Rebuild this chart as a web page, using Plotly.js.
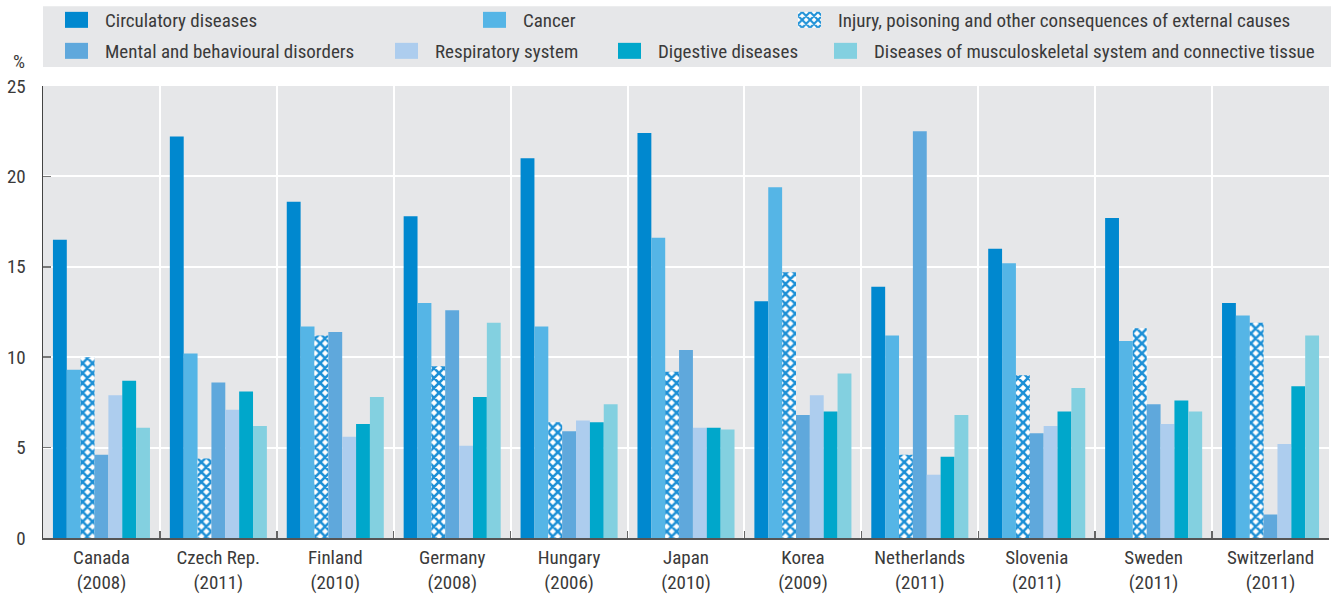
<!DOCTYPE html>
<html>
<head>
<meta charset="utf-8">
<script src="https://cdn.plot.ly/plotly-3.0.1.min.js"></script>
<style>
html,body{margin:0;padding:0;background:#fff;}
#chart{width:1331px;height:594px;}
</style>
</head>
<body>
<div id="chart"></div>
<script>
const categories = ["Canada<br>(2008)", "Czech Rep.<br>(2011)", "Finland<br>(2010)", "Germany<br>(2008)", "Hungary<br>(2006)", "Japan<br>(2010)", "Korea<br>(2009)", "Netherlands<br>(2011)", "Slovenia<br>(2011)", "Sweden<br>(2011)", "Switzerland<br>(2011)"];

const seriesNames = [
  "Circulatory diseases",
  "Cancer",
  "Injury, poisoning and other consequences of external causes",
  "Mental and behavioural disorders",
  "Respiratory system",
  "Digestive diseases",
  "Diseases of musculoskeletal system and connective tissue"
];

const circulatory = [16.5, 22.2, 18.6, 17.8, 21.0, 22.4, 13.1, 13.9, 16.0, 17.7, 13.0];
const cancer      = [9.3, 10.2, 11.7, 13.0, 11.7, 16.6, 19.4, 11.2, 15.2, 10.9, 12.3];
const injury      = [10.0, 4.4, 11.2, 9.5, 6.4, 9.2, 14.7, 4.6, 9.0, 11.6, 11.9];
const mental      = [4.6, 8.6, 11.4, 12.6, 5.9, 10.4, 6.8, 22.5, 5.8, 7.4, 1.3];
const respiratory = [7.9, 7.1, 5.6, 5.1, 6.5, 6.1, 7.9, 3.5, 6.2, 6.3, 5.2];
const digestive   = [8.7, 8.1, 6.3, 7.8, 6.4, 6.1, 7.0, 4.5, 7.0, 7.6, 8.4];
const musculo     = [6.1, 6.2, 7.8, 11.9, 7.4, 6.0, 9.1, 6.8, 8.3, 7.0, 11.2];

const yTicks = [0, 5, 10, 15, 20, 25];

const seriesValues = [circulatory, cancer, injury, mental, respiratory, digestive, musculo];
const colors = ["#0088cf", "#55b5e6", "#1b8fd6", "#5fa8dc", "#adcdee", "#00a7cb", "#83d0e0"];

// legend placement (text start px, row)
const legendTextX = [105, 523, 838, 105, 435, 658, 874];
const legendRow   = [0, 0, 0, 1, 1, 1, 1];

const W = 1331, H = 594, ML = 43, MR = 2, MT = 85, MB = 56;
const PW = W - ML - MR, PH = H - MT - MB;
const rowY = [20, 51];

const FONT = "Roboto Condensed, Liberation Sans Narrow, Arial Narrow, sans-serif";
const TXT = "#3a3a3a";

const traces = seriesNames.map((name, i) => {
  const t = {
    type: "bar",
    name: name,
    x: categories,
    y: seriesValues[i],
    marker: {color: colors[i], line: {width: 0}},
    legend: i === 0 ? "legend" : "legend" + (i + 1),
    hoverinfo: "x+y+name"
  };
  if (i === 2) {
    t.marker.pattern = {shape: "x", fgcolor: colors[i], bgcolor: "#ffffff", size: 7, solidity: 0.6, fillmode: "replace"};
  }
  return t;
});

const layout = {
  width: W, height: H,
  margin: {l: ML, r: MR, t: MT, b: MB, pad: 0},
  paper_bgcolor: "#ffffff",
  plot_bgcolor: "#e6e7e9",
  barmode: "group",
  bargap: 0.17,
  bargroupgap: 0,
  font: {family: FONT, size: 19, color: TXT},
  xaxis: {
    type: "category",
    tickson: "boundaries",
    ticks: "inside",
    ticklen: 7,
    tickcolor: "#666",
    tickwidth: 1.5,
    showgrid: true,
    gridcolor: "#ffffff",
    gridwidth: 2,
    showline: true,
    linecolor: "#555",
    linewidth: 2,
    ticklabelstandoff: 1,
    tickfont: {family: FONT, size: 19, color: TXT},
    fixedrange: true
  },
  yaxis: {
    range: [0, 25],
    tickvals: yTicks,
    ticks: "inside",
    ticklen: 8,
    tickcolor: "#777",
    tickwidth: 1.5,
    showgrid: true,
    gridcolor: "#ffffff",
    gridwidth: 2,
    zeroline: false,
    showline: true,
    linecolor: "#444",
    linewidth: 1.5,
    ticklabelstandoff: 12,
    tickfont: {family: FONT, size: 19, color: TXT},
    fixedrange: true
  },
  shapes: [{
    type: "rect", xref: "paper", yref: "paper", layer: "below",
    x0: 0, x1: (W - ML) / PW,
    y0: (H - MB - 66) / PH, y1: (H - MB - 5) / PH,
    fillcolor: "#e6e7e9", line: {width: 0}
  }],
  annotations: [{
    text: "%", xref: "paper", yref: "paper", showarrow: false,
    x: (27 - ML) / PW, y: (H - MB - 60) / PH, xanchor: "right", yanchor: "middle",
    font: {family: FONT, size: 19, color: TXT}
  }],
  showlegend: true
};

seriesNames.forEach((n, i) => {
  const key = i === 0 ? "legend" : "legend" + (i + 1);
  layout[key] = {
    x: (legendTextX[i] - 40 - ML) / PW,
    y: (H - MB - rowY[legendRow[i]]) / PH,
    xanchor: "left", yanchor: "middle",
    orientation: "h",
    bgcolor: "rgba(0,0,0,0)",
    borderwidth: 0,
    font: {family: FONT, size: 19, color: TXT}
  };
});

Plotly.newPlot("chart", traces, layout, {displayModeBar: false, staticPlot: true}).then(gd => {
  // enlarge legend swatches to the wide rectangular keys of the original
  gd.querySelectorAll(".legendpoints path").forEach(p => {
    p.setAttribute("d", "M3,8H-29V-8H3Z");
  });
});
</script>
</body>
</html>
